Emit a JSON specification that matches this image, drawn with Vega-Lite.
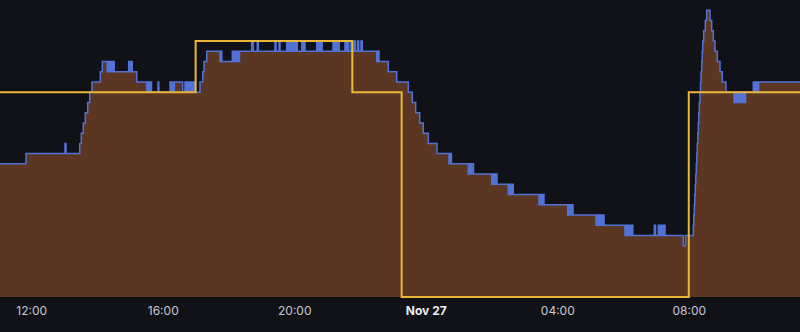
{
  "$schema": "https://vega.github.io/schema/vega-lite/v6.json",
  "width": 800,
  "height": 297,
  "padding": {"left": 0, "top": 0, "right": 0, "bottom": 35},
  "autosize": {"type": "none"},
  "background": "#111217",
  "config": {
    "view": {"stroke": null},
    "axis": {"domain": false, "ticks": false, "grid": false, "labelFont": "Inter", "labelFontSize": 12, "labelColor": "#c7c7d1", "labelPadding": 8, "labelFlush": false, "labelOverlap": false}
  },
  "datasets": {
    "blue": [
      {"t": "2024-11-26T11:03:00Z", "v": 13},
      {"t": "2024-11-26T11:50:27Z", "v": 14},
      {"t": "2024-11-26T13:01:38Z", "v": 15},
      {"t": "2024-11-26T13:03:27Z", "v": 14},
      {"t": "2024-11-26T13:28:27Z", "v": 15},
      {"t": "2024-11-26T13:31:22Z", "v": 16},
      {"t": "2024-11-26T13:35:01Z", "v": 17},
      {"t": "2024-11-26T13:38:40Z", "v": 18},
      {"t": "2024-11-26T13:43:03Z", "v": 19},
      {"t": "2024-11-26T13:46:42Z", "v": 20},
      {"t": "2024-11-26T13:50:54Z", "v": 21},
      {"t": "2024-11-26T14:06:03Z", "v": 22},
      {"t": "2024-11-26T14:09:42Z", "v": 23},
      {"t": "2024-11-26T14:18:49Z", "v": 22},
      {"t": "2024-11-26T14:21:23Z", "v": 23},
      {"t": "2024-11-26T14:23:45Z", "v": 22},
      {"t": "2024-11-26T14:25:35Z", "v": 23},
      {"t": "2024-11-26T14:27:24Z", "v": 22},
      {"t": "2024-11-26T14:29:14Z", "v": 23},
      {"t": "2024-11-26T14:31:25Z", "v": 22},
      {"t": "2024-11-26T14:57:53Z", "v": 23},
      {"t": "2024-11-26T14:59:53Z", "v": 22},
      {"t": "2024-11-26T15:02:05Z", "v": 23},
      {"t": "2024-11-26T15:04:16Z", "v": 22},
      {"t": "2024-11-26T15:12:29Z", "v": 21},
      {"t": "2024-11-26T15:30:44Z", "v": 20},
      {"t": "2024-11-26T15:33:06Z", "v": 21},
      {"t": "2024-11-26T15:35:17Z", "v": 20},
      {"t": "2024-11-26T15:37:29Z", "v": 21},
      {"t": "2024-11-26T15:39:29Z", "v": 20},
      {"t": "2024-11-26T15:51:21Z", "v": 21},
      {"t": "2024-11-26T15:52:49Z", "v": 20},
      {"t": "2024-11-26T16:13:15Z", "v": 21},
      {"t": "2024-11-26T16:15:26Z", "v": 20},
      {"t": "2024-11-26T16:17:38Z", "v": 21},
      {"t": "2024-11-26T16:19:38Z", "v": 20},
      {"t": "2024-11-26T16:21:06Z", "v": 21},
      {"t": "2024-11-26T16:36:26Z", "v": 20},
      {"t": "2024-11-26T16:40:38Z", "v": 21},
      {"t": "2024-11-26T16:43:00Z", "v": 20},
      {"t": "2024-11-26T16:45:22Z", "v": 21},
      {"t": "2024-11-26T16:47:56Z", "v": 20},
      {"t": "2024-11-26T16:50:18Z", "v": 21},
      {"t": "2024-11-26T16:52:51Z", "v": 20},
      {"t": "2024-11-26T16:55:14Z", "v": 21},
      {"t": "2024-11-26T16:57:58Z", "v": 20},
      {"t": "2024-11-26T17:08:00Z", "v": 21},
      {"t": "2024-11-26T17:12:56Z", "v": 22},
      {"t": "2024-11-26T17:15:18Z", "v": 23},
      {"t": "2024-11-26T17:20:14Z", "v": 24},
      {"t": "2024-11-26T17:44:30Z", "v": 23},
      {"t": "2024-11-26T17:46:20Z", "v": 24},
      {"t": "2024-11-26T17:47:47Z", "v": 23},
      {"t": "2024-11-26T18:06:57Z", "v": 24},
      {"t": "2024-11-26T18:08:46Z", "v": 23},
      {"t": "2024-11-26T18:10:58Z", "v": 24},
      {"t": "2024-11-26T18:13:09Z", "v": 23},
      {"t": "2024-11-26T18:15:32Z", "v": 24},
      {"t": "2024-11-26T18:17:43Z", "v": 23},
      {"t": "2024-11-26T18:20:05Z", "v": 24},
      {"t": "2024-11-26T18:42:21Z", "v": 25},
      {"t": "2024-11-26T18:45:16Z", "v": 24},
      {"t": "2024-11-26T18:52:34Z", "v": 25},
      {"t": "2024-11-26T18:54:24Z", "v": 24},
      {"t": "2024-11-26T19:24:53Z", "v": 25},
      {"t": "2024-11-26T19:26:42Z", "v": 24},
      {"t": "2024-11-26T19:32:11Z", "v": 25},
      {"t": "2024-11-26T19:34:00Z", "v": 24},
      {"t": "2024-11-26T19:46:14Z", "v": 25},
      {"t": "2024-11-26T19:48:36Z", "v": 24},
      {"t": "2024-11-26T19:50:47Z", "v": 25},
      {"t": "2024-11-26T19:53:10Z", "v": 24},
      {"t": "2024-11-26T19:55:21Z", "v": 25},
      {"t": "2024-11-26T19:57:44Z", "v": 24},
      {"t": "2024-11-26T19:59:55Z", "v": 25},
      {"t": "2024-11-26T20:02:17Z", "v": 24},
      {"t": "2024-11-26T20:04:07Z", "v": 25},
      {"t": "2024-11-26T20:05:34Z", "v": 24},
      {"t": "2024-11-26T20:13:36Z", "v": 25},
      {"t": "2024-11-26T20:15:26Z", "v": 24},
      {"t": "2024-11-26T20:17:15Z", "v": 25},
      {"t": "2024-11-26T20:19:38Z", "v": 24},
      {"t": "2024-11-26T20:40:59Z", "v": 25},
      {"t": "2024-11-26T20:42:59Z", "v": 24},
      {"t": "2024-11-26T20:45:11Z", "v": 25},
      {"t": "2024-11-26T20:47:22Z", "v": 24},
      {"t": "2024-11-26T20:49:22Z", "v": 25},
      {"t": "2024-11-26T20:51:01Z", "v": 24},
      {"t": "2024-11-26T21:10:44Z", "v": 25},
      {"t": "2024-11-26T21:12:55Z", "v": 24},
      {"t": "2024-11-26T21:15:06Z", "v": 25},
      {"t": "2024-11-26T21:17:18Z", "v": 24},
      {"t": "2024-11-26T21:19:51Z", "v": 25},
      {"t": "2024-11-26T21:22:02Z", "v": 24},
      {"t": "2024-11-26T21:32:38Z", "v": 25},
      {"t": "2024-11-26T21:34:49Z", "v": 24},
      {"t": "2024-11-26T21:37:11Z", "v": 25},
      {"t": "2024-11-26T21:39:23Z", "v": 24},
      {"t": "2024-11-26T21:43:35Z", "v": 25},
      {"t": "2024-11-26T21:45:57Z", "v": 24},
      {"t": "2024-11-26T21:49:03Z", "v": 25},
      {"t": "2024-11-26T21:51:14Z", "v": 24},
      {"t": "2024-11-26T21:55:26Z", "v": 25},
      {"t": "2024-11-26T21:57:38Z", "v": 24},
      {"t": "2024-11-26T22:01:50Z", "v": 25},
      {"t": "2024-11-26T22:04:12Z", "v": 24},
      {"t": "2024-11-26T22:30:29Z", "v": 23},
      {"t": "2024-11-26T22:32:51Z", "v": 24},
      {"t": "2024-11-26T22:34:41Z", "v": 23},
      {"t": "2024-11-26T22:51:39Z", "v": 22},
      {"t": "2024-11-26T23:06:59Z", "v": 21},
      {"t": "2024-11-26T23:28:09Z", "v": 20},
      {"t": "2024-11-26T23:35:27Z", "v": 19},
      {"t": "2024-11-26T23:41:39Z", "v": 18},
      {"t": "2024-11-26T23:48:57Z", "v": 17},
      {"t": "2024-11-26T23:55:31Z", "v": 16},
      {"t": "2024-11-27T00:04:39Z", "v": 15},
      {"t": "2024-11-27T00:20:32Z", "v": 14},
      {"t": "2024-11-27T00:42:26Z", "v": 13},
      {"t": "2024-11-27T00:44:37Z", "v": 14},
      {"t": "2024-11-27T00:46:48Z", "v": 13},
      {"t": "2024-11-27T01:17:39Z", "v": 12},
      {"t": "2024-11-27T01:19:50Z", "v": 13},
      {"t": "2024-11-27T01:22:02Z", "v": 12},
      {"t": "2024-11-27T01:24:13Z", "v": 13},
      {"t": "2024-11-27T01:27:08Z", "v": 12},
      {"t": "2024-11-27T02:00:21Z", "v": 11},
      {"t": "2024-11-27T02:02:44Z", "v": 12},
      {"t": "2024-11-27T02:05:06Z", "v": 11},
      {"t": "2024-11-27T02:07:28Z", "v": 12},
      {"t": "2024-11-27T02:10:02Z", "v": 11},
      {"t": "2024-11-27T02:30:39Z", "v": 10},
      {"t": "2024-11-27T02:32:50Z", "v": 11},
      {"t": "2024-11-27T02:35:13Z", "v": 10},
      {"t": "2024-11-27T02:37:24Z", "v": 11},
      {"t": "2024-11-27T02:39:46Z", "v": 10},
      {"t": "2024-11-27T03:26:41Z", "v": 9},
      {"t": "2024-11-27T03:28:52Z", "v": 10},
      {"t": "2024-11-27T03:31:14Z", "v": 9},
      {"t": "2024-11-27T03:33:37Z", "v": 10},
      {"t": "2024-11-27T03:35:48Z", "v": 9},
      {"t": "2024-11-27T04:19:03Z", "v": 8},
      {"t": "2024-11-27T04:21:26Z", "v": 9},
      {"t": "2024-11-27T04:23:48Z", "v": 8},
      {"t": "2024-11-27T04:26:10Z", "v": 9},
      {"t": "2024-11-27T04:28:44Z", "v": 8},
      {"t": "2024-11-27T05:10:42Z", "v": 7},
      {"t": "2024-11-27T05:13:04Z", "v": 8},
      {"t": "2024-11-27T05:15:27Z", "v": 7},
      {"t": "2024-11-27T05:18:00Z", "v": 8},
      {"t": "2024-11-27T05:20:22Z", "v": 7},
      {"t": "2024-11-27T05:22:45Z", "v": 8},
      {"t": "2024-11-27T05:25:18Z", "v": 7},
      {"t": "2024-11-27T06:03:38Z", "v": 6},
      {"t": "2024-11-27T06:06:00Z", "v": 7},
      {"t": "2024-11-27T06:08:22Z", "v": 6},
      {"t": "2024-11-27T06:10:56Z", "v": 7},
      {"t": "2024-11-27T06:13:18Z", "v": 6},
      {"t": "2024-11-27T06:15:40Z", "v": 7},
      {"t": "2024-11-27T06:17:52Z", "v": 6},
      {"t": "2024-11-27T06:57:06Z", "v": 7},
      {"t": "2024-11-27T06:59:17Z", "v": 6},
      {"t": "2024-11-27T07:04:24Z", "v": 7},
      {"t": "2024-11-27T07:06:46Z", "v": 6},
      {"t": "2024-11-27T07:09:08Z", "v": 7},
      {"t": "2024-11-27T07:11:30Z", "v": 6},
      {"t": "2024-11-27T07:13:53Z", "v": 7},
      {"t": "2024-11-27T07:16:38Z", "v": 6},
      {"t": "2024-11-27T07:50:01Z", "v": 5},
      {"t": "2024-11-27T07:54:02Z", "v": 6},
      {"t": "2024-11-27T08:08:16Z", "v": 7},
      {"t": "2024-11-27T08:09:11Z", "v": 8},
      {"t": "2024-11-27T08:10:05Z", "v": 9},
      {"t": "2024-11-27T08:11:00Z", "v": 10},
      {"t": "2024-11-27T08:11:55Z", "v": 11},
      {"t": "2024-11-27T08:12:50Z", "v": 12},
      {"t": "2024-11-27T08:13:45Z", "v": 13},
      {"t": "2024-11-27T08:14:39Z", "v": 14},
      {"t": "2024-11-27T08:15:34Z", "v": 15},
      {"t": "2024-11-27T08:16:29Z", "v": 16},
      {"t": "2024-11-27T08:17:24Z", "v": 17},
      {"t": "2024-11-27T08:18:18Z", "v": 18},
      {"t": "2024-11-27T08:19:13Z", "v": 19},
      {"t": "2024-11-27T08:20:30Z", "v": 20},
      {"t": "2024-11-27T08:21:25Z", "v": 21},
      {"t": "2024-11-27T08:22:20Z", "v": 22},
      {"t": "2024-11-27T08:23:36Z", "v": 23},
      {"t": "2024-11-27T08:24:30Z", "v": 24},
      {"t": "2024-11-27T08:25:26Z", "v": 25},
      {"t": "2024-11-27T08:27:15Z", "v": 26},
      {"t": "2024-11-27T08:30:10Z", "v": 27},
      {"t": "2024-11-27T08:32:44Z", "v": 28},
      {"t": "2024-11-27T08:38:45Z", "v": 27},
      {"t": "2024-11-27T08:41:51Z", "v": 26},
      {"t": "2024-11-27T08:44:46Z", "v": 25},
      {"t": "2024-11-27T08:47:53Z", "v": 24},
      {"t": "2024-11-27T08:52:04Z", "v": 23},
      {"t": "2024-11-27T08:57:00Z", "v": 22},
      {"t": "2024-11-27T09:01:12Z", "v": 21},
      {"t": "2024-11-27T09:07:57Z", "v": 20},
      {"t": "2024-11-27T09:22:33Z", "v": 19},
      {"t": "2024-11-27T09:24:55Z", "v": 20},
      {"t": "2024-11-27T09:27:18Z", "v": 19},
      {"t": "2024-11-27T09:29:51Z", "v": 20},
      {"t": "2024-11-27T09:32:35Z", "v": 19},
      {"t": "2024-11-27T09:35:20Z", "v": 20},
      {"t": "2024-11-27T09:37:42Z", "v": 19},
      {"t": "2024-11-27T09:40:04Z", "v": 20},
      {"t": "2024-11-27T09:42:16Z", "v": 19},
      {"t": "2024-11-27T09:43:32Z", "v": 20},
      {"t": "2024-11-27T09:57:46Z", "v": 21},
      {"t": "2024-11-27T10:00:09Z", "v": 20},
      {"t": "2024-11-27T10:02:42Z", "v": 21},
      {"t": "2024-11-27T10:05:04Z", "v": 20},
      {"t": "2024-11-27T10:07:27Z", "v": 21},
      {"t": "2024-11-27T11:23:00Z", "v": 21}
    ],
    "yellow": [
      {"t": "2024-11-26T11:03:00Z", "v": 20},
      {"t": "2024-11-26T17:00:00Z", "v": 25},
      {"t": "2024-11-26T21:46:00Z", "v": 20},
      {"t": "2024-11-26T23:16:00Z", "v": 0},
      {"t": "2024-11-27T08:00:00Z", "v": 20},
      {"t": "2024-11-27T11:23:00Z", "v": 20}
    ]
  },
  "encoding": {
    "x": {
      "field": "t",
      "type": "temporal",
      "title": null,
      "scale": {
        "type": "utc",
        "domain": [
          {"year": 2024, "month": 11, "date": 26, "hours": 11, "minutes": 3, "utc": true},
          {"year": 2024, "month": 11, "date": 27, "hours": 11, "minutes": 23, "utc": true}
        ]
      },
      "axis": {
        "values": [
          {"year": 2024, "month": 11, "date": 26, "hours": 12, "utc": true},
          {"year": 2024, "month": 11, "date": 26, "hours": 16, "utc": true},
          {"year": 2024, "month": 11, "date": 26, "hours": 20, "utc": true},
          {"year": 2024, "month": 11, "date": 27, "hours": 0, "utc": true},
          {"year": 2024, "month": 11, "date": 27, "hours": 4, "utc": true},
          {"year": 2024, "month": 11, "date": 27, "hours": 8, "utc": true}
        ],
        "labelExpr": "utchours(datum.value) == 0 ? 'Nov 27' : utcFormat(datum.value, '%H:%M')",
        "labelFontWeight": {"condition": {"test": "utchours(datum.value) == 0", "value": "bold"}, "value": "normal"},
        "labelColor": {"condition": {"test": "utchours(datum.value) == 0", "value": "#ececf2"}, "value": "#c7c7d1"}
      }
    },
    "y": {
      "field": "v",
      "type": "quantitative",
      "title": null,
      "axis": null,
      "scale": {"domain": [0, 29], "nice": false, "zero": true}
    }
  },
  "layer": [
    {
      "data": {"name": "blue"},
      "mark": {"type": "area", "interpolate": "step-after", "color": "#5b3723", "opacity": 1}
    },
    {
      "data": {"name": "blue"},
      "mark": {"type": "line", "interpolate": "step-after", "color": "#5272d8", "strokeWidth": 1.5}
    },
    {
      "data": {"name": "yellow"},
      "mark": {"type": "line", "interpolate": "step-after", "color": "#eab839", "strokeWidth": 2}
    }
  ]
}
